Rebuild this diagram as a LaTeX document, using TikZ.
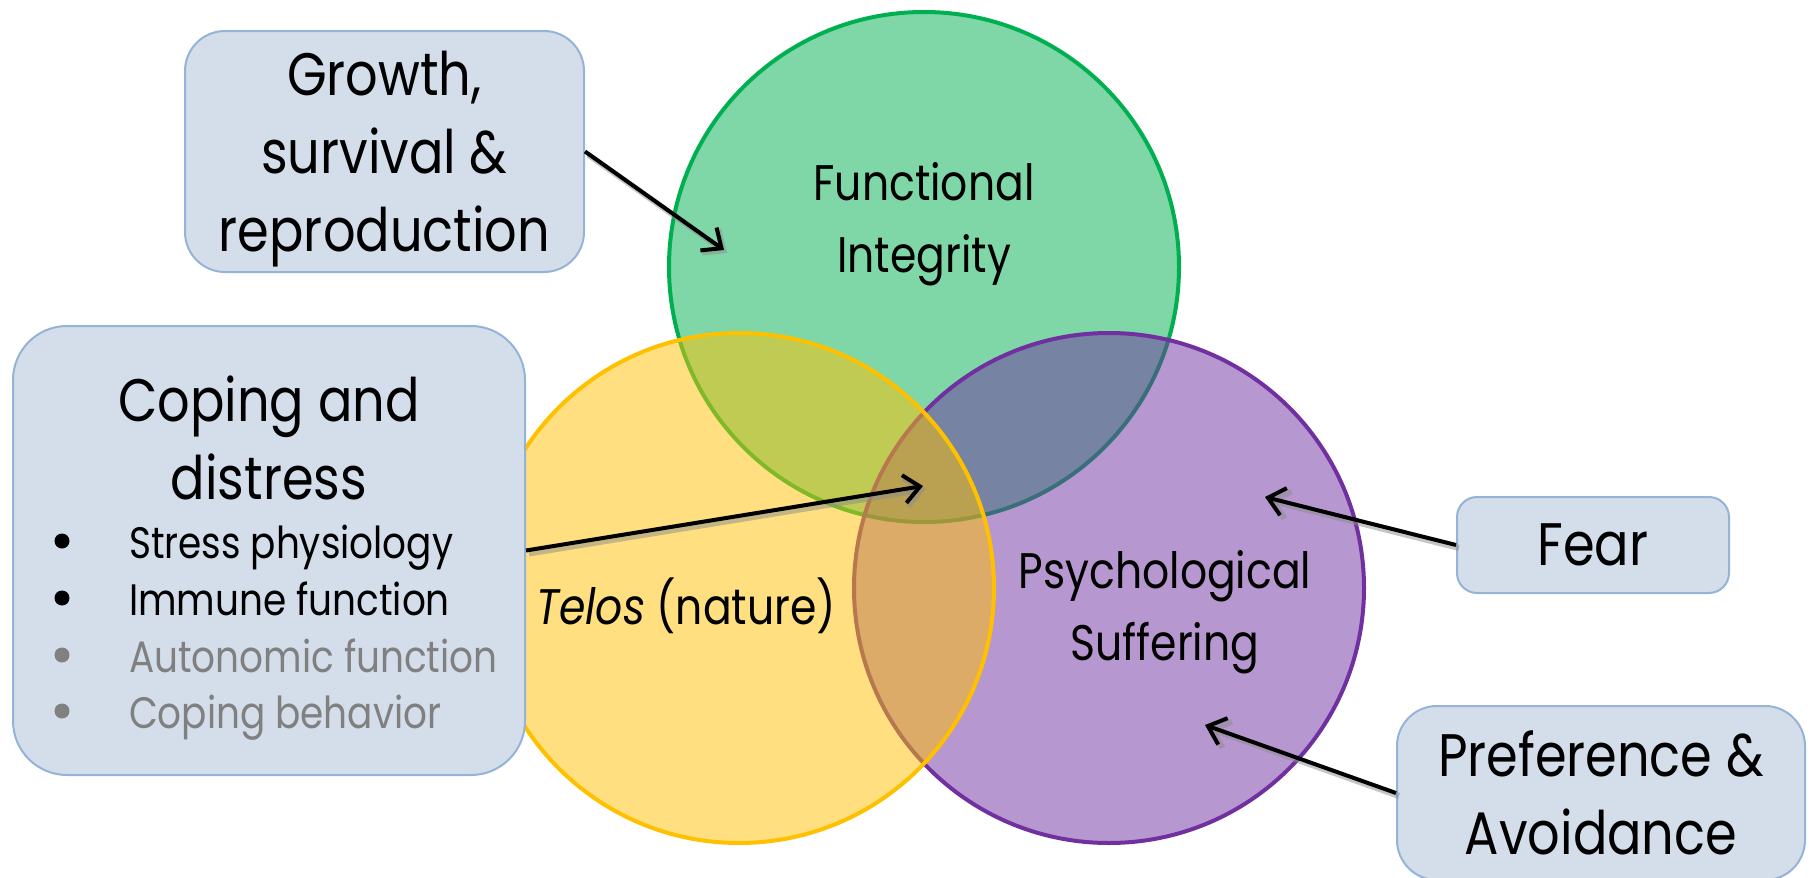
\documentclass[tikz,border=0pt]{standalone}
\usepackage{fontspec}
\setmainfont{Poppins}[FakeStretch=0.85]
\usetikzlibrary{arrows.meta}

\definecolor{fiGreen}{RGB}{0,176,80}
\definecolor{telosGold}{RGB}{255,192,0}
\definecolor{psPurple}{RGB}{112,48,160}
\definecolor{boxFill}{RGB}{211,222,234}
\definecolor{boxLine}{RGB}{149,179,215}
\definecolor{itemGray}{RGB}{128,128,128}

\tikzset{
  venn/.style={line width=2pt, fill=#1, draw=#1, fill opacity=0.5},
  infobox/.style={draw=boxLine, line width=1pt, fill=boxFill, rounded corners=#1,
    align=center, inner sep=0pt},
  bigtext/.style={font=\fontsize{30}{39}\selectfont},
  itemtext/.style={font=\fontsize{22}{28}\selectfont, anchor=base west},
  itemdot/.style={circle, fill=#1, inner sep=0pt, minimum size=7.5pt},
  venntext/.style={font=\fontsize{25}{36}\selectfont, align=center},
  pointer/.style={line width=2pt, -{Straight Barb[length=8pt,width=14pt]},
    preaction={draw, black!45, opacity=0.5, line width=3pt,
      transform canvas={xshift=1.5pt,yshift=-1.5pt}}}
}

\begin{document}
\begin{tikzpicture}[x=0.5pt, y=-0.5pt]
  \useasboundingbox (0,0) rectangle (1812,878);

  % the three circles: green, purple, gold on top
  \coordinate (fiC) at (924,267);
  \coordinate (telosC) at (739,588);
  \coordinate (psC) at (1109,588);
  \draw[venn=fiGreen] (fiC) circle[radius=255];
  \draw[venn=psPurple] (psC) circle[radius=255];
  \draw[venn=telosGold] (telosC) circle[radius=255];

  % circle labels
  \node[venntext] (fiLabel) at (924,224) {Functional\\Integrity};
  \node[venntext, anchor=base] (telosLabel) at (686,624) {\textit{Telos} (nature)};
  \node[venntext] (psLabel) at (1165,612) {Psychological\\Suffering};

  % boxes
  \node[infobox=20pt, minimum width=199.5pt, minimum height=120.5pt]
    (growth) at (384.5,151.5) {};
  \node[bigtext, align=center] (growthText) at (384.5,159) {Growth,\\survival \&\\reproduction};
  \node[infobox=27pt, minimum width=256pt, minimum height=224.5pt]
    (coping) at (269,550.5) {};
  \node[bigtext, align=center] (copingTitle) at (269,438) {Coping and\\distress};
  \foreach \txt/\yy/\col [count=\i] in {Stress physiology/558/black,
      Immune function/615/black, Autonomic function/672/itemGray,
      Coping behavior/728/itemGray}{
    \node[itemdot=\col] (dot\i) at (62,\yy-17) {};
    \node[itemtext, text=\col] (item\i) at (122,\yy) {\txt};
  }
  \node[infobox=10pt, bigtext, minimum width=136pt, minimum height=48pt]
    (fear) at (1593,545) {Fear};
  \node[infobox=20pt, bigtext, minimum width=204pt, minimum height=87pt]
    (pref) at (1601,793) {Preference \&\\Avoidance};

  % arrow tips
  \coordinate (growthTip) at (724,250);
  \coordinate (copingTip) at (923,486);
  \coordinate (fearTip) at (1265,497);
  \coordinate (prefTip) at (1205,725);

  \draw[pointer] (growth.east) -- (growthTip);
  \draw[pointer] (coping.east) -- (copingTip);
  \draw[pointer] (fear.west) -- (fearTip);
  \draw[pointer] (pref.west) -- (prefTip);
\end{tikzpicture}
\end{document}
